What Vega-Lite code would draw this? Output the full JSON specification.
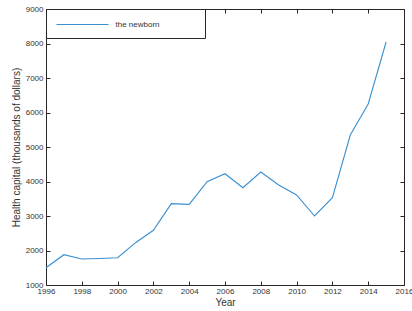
{
  "$schema": "https://vega.github.io/schema/vega-lite/v6.json",
  "width": 358,
  "height": 276,
  "autosize": "none",
  "padding": {"left": 46, "top": 9, "right": 8, "bottom": 26},
  "background": "white",
  "config": {
    "font": "Liberation Sans",
    "view": {"stroke": "#262626", "strokeWidth": 1},
    "axis": {
      "grid": false,
      "domain": false,
      "tickColor": "#262626",
      "tickSize": -4,
      "labelColor": "#333333",
      "labelFontSize": 8,
      "labelFont": "Liberation Sans",
      "titleColor": "#333333",
      "titleFont": "Liberation Sans",
      "titleFontWeight": "normal",
      "titleFontSize": 10
    }
  },
  "data": {
    "values": [
      {"year": 1996, "value": 1500, "series": "the newborn"},
      {"year": 1997, "value": 1878, "series": "the newborn"},
      {"year": 1998, "value": 1754, "series": "the newborn"},
      {"year": 1999, "value": 1768, "series": "the newborn"},
      {"year": 2000, "value": 1791, "series": "the newborn"},
      {"year": 2001, "value": 2226, "series": "the newborn"},
      {"year": 2002, "value": 2585, "series": "the newborn"},
      {"year": 2003, "value": 3357, "series": "the newborn"},
      {"year": 2004, "value": 3338, "series": "the newborn"},
      {"year": 2005, "value": 3995, "series": "the newborn"},
      {"year": 2006, "value": 4226, "series": "the newborn"},
      {"year": 2007, "value": 3821, "series": "the newborn"},
      {"year": 2008, "value": 4275, "series": "the newborn"},
      {"year": 2009, "value": 3899, "series": "the newborn"},
      {"year": 2010, "value": 3609, "series": "the newborn"},
      {"year": 2011, "value": 3000, "series": "the newborn"},
      {"year": 2012, "value": 3531, "series": "the newborn"},
      {"year": 2013, "value": 5348, "series": "the newborn"},
      {"year": 2014, "value": 6246, "series": "the newborn"},
      {"year": 2015, "value": 8043, "series": "the newborn"}
    ]
  },
  "layer": [
    {
      "mark": {"type": "line", "strokeWidth": 1.1},
      "encoding": {
        "x": {
          "field": "year", "type": "quantitative",
          "scale": {"domain": [1996, 2016], "nice": false, "zero": false},
          "axis": {"values": [1996,1998,2000,2002,2004,2006,2008,2010,2012,2014,2016], "format": "d", "title": "Year", "labelPadding": 6, "titlePadding": 2, "labelFlush": false, "labelOverlap": false}
        },
        "y": {
          "field": "value", "type": "quantitative",
          "scale": {"domain": [1000, 9000], "nice": false, "zero": false},
          "axis": {"values": [1000,2000,3000,4000,5000,6000,7000,8000,9000], "format": "d", "title": "Health capital (thousands of dollars)", "labelPadding": 7, "titlePadding": 4, "labelFlush": false, "labelOverlap": false}
        },
        "color": {
          "field": "series", "type": "nominal",
          "scale": {"range": ["#3a8fd0"]},
          "legend": {
            "title": null,
            "orient": "top-left",
            "offset": 0,
            "padding": 9.5,
            "strokeColor": "#262626",
            "fillColor": "white",
            "symbolType": "M-1,0H9.4",
            "symbolSize": 100,
            "symbolStrokeWidth": 1.2,
            "labelFontSize": 8,
            "labelColor": "#333333",
            "labelOffset": 48,
            "labelExpr": "datum.label + '\u00a0\u00a0\u00a0\u00a0\u00a0\u00a0\u00a0\u00a0\u00a0\u00a0\u00a0\u00a0\u00a0\u00a0\u00a0\u00a0\u200b'"
          }
        }
      }
    },
    {
      "mark": {"type": "line", "strokeOpacity": 0},
      "encoding": {
        "x": {
          "field": "year", "type": "quantitative",
          "scale": {"domain": [1996, 2016], "nice": false, "zero": false},
          "axis": {"orient": "top", "values": [1996,1998,2000,2002,2004,2006,2008,2010,2012,2014,2016], "labels": false, "title": null}
        },
        "y": {
          "field": "value", "type": "quantitative",
          "scale": {"domain": [1000, 9000], "nice": false, "zero": false},
          "axis": {"orient": "right", "values": [1000,2000,3000,4000,5000,6000,7000,8000,9000], "labels": false, "title": null}
        }
      }
    }
  ],
  "resolve": {"axis": {"x": "independent", "y": "independent"}}
}
